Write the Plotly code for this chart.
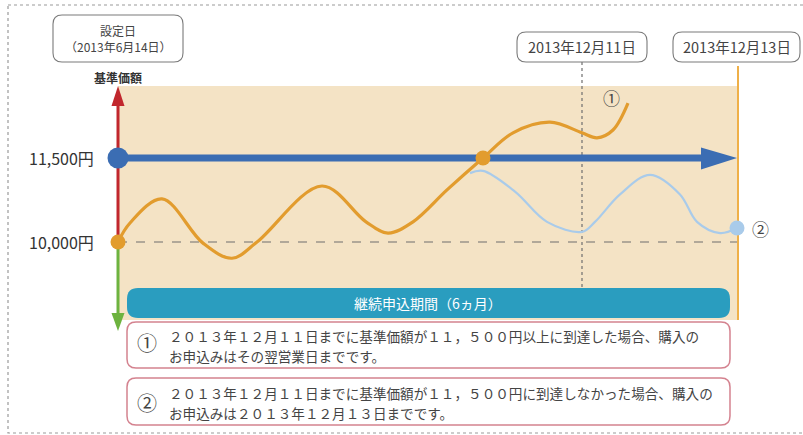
import plotly.graph_objects as go

W, H = 803, 435
FONT = "Noto Sans CJK JP"

# ---------------- data ----------------
# time position (schematic, left = 設定日, right = 2013年12月13日) and 基準価額 (円)
orange_x = [118, 130, 162, 203, 232, 257, 322, 366, 388, 413, 447, 483, 513, 550, 582, 597, 613, 628]
orange_y = [10000, 10340, 10770, 9980, 9710, 10000, 11000, 10360, 10160, 10360, 10930, 11500, 11950, 12140, 11950, 11860, 12000, 12480]

lblue_x = [470, 483, 515, 547, 582, 595, 620, 650, 680, 697, 720, 737]
lblue_y = [11230, 11270, 10900, 10360, 10180, 10360, 10850, 11200, 10850, 10360, 10160, 10250]

target_x = [118, 706]
target_y = [11500, 11500]

base_value = 10000
target_value = 11500
ytick_vals = [11500, 10000]
ytick_text = ["11,500円", "10,000円"]

start_x, cutoff_x, end_x = 118, 582, 738

# pixel <-> value mapping (schematic axis)
PX_PER_YEN = 84 / 1500.0
def yen_at(py):
    return target_value - (py - 158) / PX_PER_YEN
Y_RANGE = [yen_at(H), yen_at(0)]

# paper helpers for decorations
def px(x):
    return x / W
def py(y):
    return 1 - y / H

def rrect(x0, y0, x1, y1, r):
    pts = [("M", (x0 + r, y0)), ("L", (x1 - r, y0)), ("Q", (x1, y0), (x1, y0 + r)),
           ("L", (x1, y1 - r)), ("Q", (x1, y1), (x1 - r, y1)), ("L", (x0 + r, y1)),
           ("Q", (x0, y1), (x0, y1 - r)), ("L", (x0, y0 + r)), ("Q", (x0, y0), (x0 + r, y0))]
    s = ""
    for p in pts:
        cmd = p[0]
        coords = " ".join(f"{px(a):.5f},{py(b):.5f}" for a, b in p[1:])
        s += f"{cmd}{coords} "
    return s + "Z"

def tri(pts):
    return "M" + " L".join(f"{px(a):.5f},{py(b):.5f}" for a, b in pts) + " Z"

BEIGE = "#f4e3c5"
ORANGE = "#e29c2e"
LBLUE = "#a9cbea"
BLUE = "#3b6db3"
RED = "#c1272d"
GREEN = "#6db33f"
TEAL = "#2a9dbf"
PINK = "#d4828f"
TXT = "#444444"

fig = go.Figure()

fig.add_trace(go.Scatter(x=target_x, y=target_y, mode="lines",
                         line=dict(color=BLUE, width=7), hoverinfo="skip", showlegend=False))
fig.add_trace(go.Scatter(x=lblue_x, y=lblue_y, mode="lines",
                         line=dict(color=LBLUE, width=2.2, shape="spline", smoothing=1.0),
                         hoverinfo="skip", showlegend=False))
fig.add_trace(go.Scatter(x=orange_x, y=orange_y, mode="lines",
                         line=dict(color=ORANGE, width=3.2, shape="spline", smoothing=1.0),
                         hoverinfo="skip", showlegend=False))
# points
fig.add_trace(go.Scatter(x=[start_x], y=[target_value], mode="markers",
                         marker=dict(color=BLUE, size=21), hoverinfo="skip", showlegend=False))
fig.add_trace(go.Scatter(x=[start_x, orange_x[11]], y=[base_value, orange_y[11]], mode="markers",
                         marker=dict(color=ORANGE, size=15), hoverinfo="skip", showlegend=False))
fig.add_trace(go.Scatter(x=[lblue_x[-1]], y=[lblue_y[-1]], mode="markers",
                         marker=dict(color=LBLUE, size=15), hoverinfo="skip", showlegend=False))

shapes = []
# outer dotted frame
shapes.append(dict(type="rect", xref="paper", yref="paper", x0=px(8), y0=py(5), x1=px(830), y1=py(433),
                   line=dict(color="#9a9a9a", width=1.2, dash="dot"), layer="below"))
# beige area
shapes.append(dict(type="rect", xref="paper", yref="paper", x0=px(118), y0=py(86), x1=px(738), y1=py(320),
                   fillcolor=BEIGE, line=dict(width=0), layer="below"))
# dashed base line
shapes.append(dict(type="line", xref="paper", yref="paper", x0=px(118), x1=px(738), y0=py(242), y1=py(242),
                   line=dict(color="#6e6e6e", width=1.2, dash="dash"), layer="below"))
# dotted cutoff line
shapes.append(dict(type="line", xref="paper", yref="paper", x0=px(cutoff_x), x1=px(cutoff_x), y0=py(62), y1=py(318),
                   line=dict(color="#6e6e6e", width=1.2, dash="dot"), layer="below"))
# end vertical line
shapes.append(dict(type="line", xref="paper", yref="paper", x0=px(end_x), x1=px(end_x), y0=py(66), y1=py(320),
                   line=dict(color="#efb048", width=2), layer="below"))
# axis arrow red / green
shapes.append(dict(type="line", xref="paper", yref="paper", x0=px(118), x1=px(118), y0=py(242), y1=py(100),
                   line=dict(color=RED, width=3), layer="below"))
shapes.append(dict(type="path", xref="paper", yref="paper", path=tri([(111.5, 106), (124.5, 106), (118, 86)]),
                   fillcolor=RED, line=dict(width=0), layer="below"))
shapes.append(dict(type="line", xref="paper", yref="paper", x0=px(118), x1=px(118), y0=py(242), y1=py(316),
                   line=dict(color=GREEN, width=3), layer="below"))
shapes.append(dict(type="path", xref="paper", yref="paper", path=tri([(111.5, 313), (124.5, 313), (118, 331)]),
                   fillcolor=GREEN, line=dict(width=0), layer="below"))
# blue arrow head
shapes.append(dict(type="path", xref="paper", yref="paper", path=tri([(701, 147.5), (737, 158), (701, 169.5)]),
                   fillcolor=BLUE, line=dict(width=0), layer="above"))
# teal bar
shapes.append(dict(type="path", xref="paper", yref="paper", path=rrect(127, 288, 730, 318, 11),
                   fillcolor=TEAL, line=dict(width=0), layer="above"))
# note boxes
shapes.append(dict(type="path", xref="paper", yref="paper", path=rrect(127, 322, 730, 368, 9),
                   fillcolor="white", line=dict(color=PINK, width=1.5), layer="above"))
shapes.append(dict(type="path", xref="paper", yref="paper", path=rrect(127, 378, 730, 425, 9),
                   fillcolor="white", line=dict(color=PINK, width=1.5), layer="above"))
# date boxes
for (x0, y0, x1, y1) in [(53, 15, 183, 62), (517, 32, 647, 62), (673, 32, 800, 62)]:
    shapes.append(dict(type="path", xref="paper", yref="paper", path=rrect(x0, y0, x1, y1, 9),
                       fillcolor="white", line=dict(color="#7a7a7a", width=1.1), layer="above"))

ann = []
def text(x, y, s, size=13, color=TXT, anchor="center", bold=False):
    ann.append(dict(xref="paper", yref="paper", x=px(x), y=py(y), text=(f"<b>{s}</b>" if bold else s),
                    showarrow=False, xanchor=anchor, yanchor="middle", align=anchor,
                    font=dict(family=FONT, size=size, color=color)))

text(118, 30, "設定日", 12)
text(118, 47, "（2013年6月14日）", 12)
text(582, 47, "2013年12月11日", 14.5)
text(737, 47, "2013年12月13日", 14.5)
text(118, 77, "基準価額", 12, color="#333", bold=True)
for v, t in zip(ytick_vals, ytick_text):
    text(96, 158 + (target_value - v) * PX_PER_YEN, t, 16, color="#333", anchor="right")
text(611, 97, "①", 17)
text(760, 228, "②", 17)
text(428, 303, "継続申込期間（6ヵ月）", 14, color="white")
text(147, 342, "①", 20)
text(147, 402, "②", 20)
text(167, 336, "２０１３年１２月１１日までに基準価額が１１，５００円以上に到達した場合、購入の", 13.6, anchor="left")
text(167, 356, "お申込みはその翌営業日までです。", 13.6, anchor="left")
text(167, 393, "２０１３年１２月１１日までに基準価額が１１，５００円に到達しなかった場合、購入の", 13.6, anchor="left")
text(167, 413, "お申込みは２０１３年１２月１３日までです。", 13.6, anchor="left")

fig.update_layout(
    width=W, height=H, margin=dict(l=0, r=0, t=0, b=0),
    paper_bgcolor="white", plot_bgcolor="rgba(0,0,0,0)",
    xaxis=dict(range=[0, W], visible=False, fixedrange=True),
    yaxis=dict(range=Y_RANGE, visible=False, fixedrange=True),
    shapes=shapes, annotations=ann, showlegend=False,
)

fig.write_html("out.html", config={"displayModeBar": False},
               post_script="document.body.style.margin='0px';document.body.style.overflow='hidden';")
